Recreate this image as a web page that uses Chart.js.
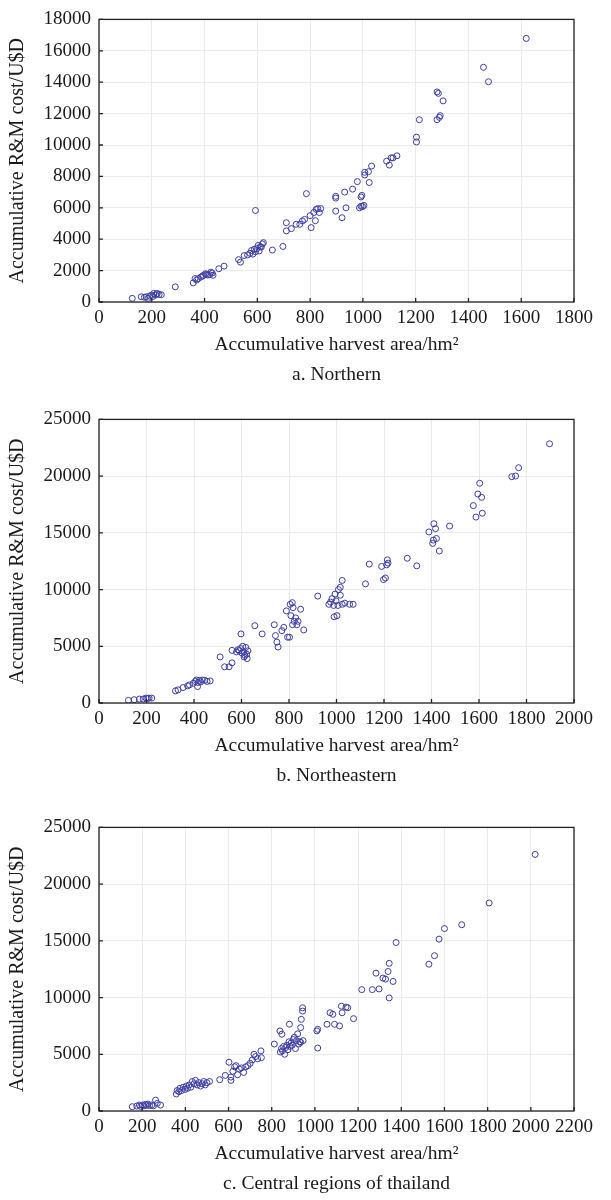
<!DOCTYPE html>
<html>
<head>
<meta charset="utf-8">
<script src="https://cdn.jsdelivr.net/npm/chart.js@4.4.1/dist/chart.umd.min.js"></script>
<style>
  body { margin: 0; background: #fff; }
  canvas { display: block; }
</style>
</head>
<body>
<canvas id="chartA" width="611" height="400"></canvas>
<canvas id="chartB" width="611" height="408"></canvas>
<canvas id="chartC" width="611" height="392"></canvas>
<script>
// a. Northern
const northX = [126, 160, 172, 179, 186, 192, 200, 204, 207, 214, 218, 221, 228, 236, 289, 357, 364, 370, 376, 386,
  392, 396, 403, 407, 412, 419, 424, 429, 432, 454, 474, 529, 536, 550, 563, 572, 578, 583, 589, 593,
  598, 603, 607, 611, 615, 619, 623, 593, 657, 697, 710, 710, 729, 747, 761, 771, 779, 786, 804, 800,
  814, 820, 823, 829, 835, 840, 897, 897, 897, 921, 931, 936, 961, 979, 987, 993, 999, 1004, 993, 996,
  1007, 1007, 1021, 1024, 1033, 1090, 1100, 1107, 1114, 1129, 1203, 1203, 1214, 1281, 1290, 1293, 1281, 1286, 1304, 1457,
  1476, 1619];
const northY = [230, 335, 300, 330, 230, 380, 440, 350, 545, 440, 520, 545, 480, 460, 965, 1215, 1490, 1400, 1490, 1590,
  1650, 1700, 1800, 1760, 1720, 1740, 1900, 1845, 1700, 2120, 2285, 2700, 2540, 2955, 3000, 3100, 3280, 3050, 3360, 3200,
  3400, 3600, 3250, 3520, 3500, 3700, 3780, 5830, 3310, 3540, 5050, 4530, 4675, 4950, 4950, 5160, 5260, 6900, 4740, 5500,
  5700, 5180, 5900, 5950, 5700, 5950, 5790, 6620, 6730, 5370, 7000, 6000, 7190, 7670, 6000, 6100, 6080, 6150, 6690, 6790,
  8090, 8260, 8300, 7610, 8660, 8970, 8720, 9180, 9180, 9310, 10190, 10500, 11610, 11610, 11760, 11870, 13380, 13290, 12810, 14950,
  14030, 16790];

// b. Northeastern
const northeastX = [124, 148, 170, 186, 198, 205, 211, 222, 322, 333, 354, 373, 381, 397, 405, 410, 415, 418, 422, 428,
  435, 445, 455, 468, 510, 529, 548, 560, 560, 579, 585, 590, 596, 598, 602, 605, 610, 614, 618, 622,
  627, 611, 624, 656, 687, 738, 743, 749, 754, 770, 778, 789, 794, 802, 805, 814, 817, 808, 815, 822,
  828, 833, 838, 849, 862, 921, 968, 975, 981, 988, 994, 998, 990, 1002, 1006, 1016, 1024, 1035, 1055, 1070,
  1008, 1016, 1024, 1122, 1138, 1190, 1198, 1206, 1211, 1214, 1217, 1298, 1338, 1389, 1405, 1408, 1410, 1417, 1421, 1433,
  1476, 1576, 1587, 1595, 1603, 1611, 1614, 1738, 1754, 1767, 1897];
const northeastY = [232, 290, 348, 348, 435, 400, 435, 435, 1073, 1160, 1363, 1508, 1595, 1740, 1900, 2030, 1450, 1800, 2000, 1850,
  2030, 2000, 1900, 1950, 4060, 3190, 3190, 3540, 4640, 4500, 4700, 4600, 4800, 6090, 4400, 5000, 4500, 4200, 4900, 4300,
  4600, 4060, 3915, 6815, 6090, 6900, 5945, 5365, 4930, 6380, 6670, 8120, 5800, 5800, 8700, 8845, 8410, 7700, 6900, 7200,
  7500, 6900, 7200, 8265, 6440, 9425, 8700, 8900, 9200, 8600, 9600, 9000, 7600, 7700, 8600, 9500, 8700, 8800, 8700, 8700,
  10000, 10200, 10800, 10500, 12240, 12040, 10880, 11020, 12180, 12620, 12330, 12760, 12090, 15080, 14070, 14360, 15800, 15370, 14500, 13400,
  15600, 17400, 16390, 18420, 19370, 18130, 16730, 19950, 20010, 20740, 22850];

// c. Central regions of thailand
const centralX = [154, 175, 187, 193, 201, 208, 215, 220, 227, 234, 244, 252, 262, 270, 285, 358, 362, 370, 375, 382,
  390, 398, 405, 410, 418, 425, 432, 440, 447, 455, 462, 470, 478, 485, 492, 500, 512, 559, 585, 602,
  611, 611, 620, 628, 635, 642, 650, 660, 670, 680, 690, 700, 710, 718, 725, 735, 750, 752, 812, 838,
  847, 840, 845, 850, 855, 860, 865, 870, 875, 880, 882, 885, 890, 895, 900, 905, 910, 915, 920, 925,
  930, 934, 934, 937, 943, 943, 945, 1009, 1013, 1013, 1056, 1070, 1083, 1091, 1114, 1123, 1126, 1144, 1152, 1179,
  1217, 1266, 1283, 1297, 1315, 1327, 1339, 1344, 1344, 1362, 1376, 1528, 1554, 1575, 1600, 1680, 1807, 2020];
const centralY = [378, 436, 523, 400, 523, 450, 581, 500, 610, 480, 523, 450, 959, 670, 523, 1500, 1800, 1700, 2000, 1800,
  2100, 1900, 2200, 2000, 2300, 2100, 2600, 2400, 2700, 2300, 2500, 2200, 2400, 2600, 2300, 2500, 2600, 2760, 3140, 4300,
  2990, 2700, 3500, 3900, 4000, 3200, 3700, 3800, 3400, 3900, 4000, 4200, 4500, 5000, 4800, 4600, 5300, 4700, 5900, 7060,
  6770, 5200, 5500, 5300, 5700, 5000, 5600, 5800, 5400, 6100, 7650, 5700, 6000, 5800, 6300, 6500, 5500, 6200, 6800, 5900,
  6100, 6050, 7355, 8080, 8810, 9100, 6200, 7060, 7200, 5550, 7645, 8660, 8520, 7645, 7500, 9240, 8660, 9160, 9100, 8140,
  10700, 10700, 12150, 10760, 11715, 11630, 12300, 13020, 9970, 11420, 14850, 12940, 13690, 15150, 16080, 16420, 18340, 22620];

const serif = "'Liberation Serif', 'Times New Roman', serif";
const textColor = '#1a1a1a';

// box round the plot and small ticks pointing inward
const framePlugin = {
    id: 'frame',
    afterDraw(chart) {
        const {ctx, chartArea: a, scales} = chart;
        ctx.save();
        ctx.strokeStyle = '#222';
        ctx.lineWidth = 1.3;
        ctx.strokeRect(a.left, a.top, a.right - a.left, a.bottom - a.top);
        ctx.beginPath();
        scales.x.ticks.forEach(t => {
            const px = scales.x.getPixelForValue(t.value);
            ctx.moveTo(px, a.bottom);
            ctx.lineTo(px, a.bottom - 4);
        });
        scales.y.ticks.forEach(t => {
            const py = scales.y.getPixelForValue(t.value);
            ctx.moveTo(a.left, py);
            ctx.lineTo(a.left + 4, py);
        });
        ctx.stroke();
        ctx.restore();
    }
};

function toPoints(xs, ys) {
    return xs.map((x, i) => ({x: x, y: ys[i]}));
}

function makeChart(id, xs, ys, xMax, yMax, yStep, caption, padBottom) {
    const ctx = document.getElementById(id).getContext('2d');
    return new Chart(ctx, {
        type: 'scatter',
        data: {
            datasets: [{
                data: toPoints(xs, ys),
                pointStyle: 'circle',
                pointRadius: 3,
                pointBorderWidth: 1,
                borderColor: '#3d3da2',
                backgroundColor: 'rgba(0,0,0,0)'
            }]
        },
        options: {
            responsive: false,
            animation: false,
            layout: {padding: {top: 16, right: 37, left: 0, bottom: padBottom}},
            plugins: {
                legend: {display: false},
                tooltip: {enabled: false}
            },
            scales: {
                x: {
                    type: 'linear',
                    min: 0,
                    max: xMax,
                    afterFit: scale => { scale.height = 87; },
                    border: {display: false},
                    grid: {color: '#ebebeb', drawTicks: false},
                    ticks: {
                        stepSize: 200,
                        autoSkip: false,
                        maxRotation: 0,
                        padding: 5,
                        color: textColor,
                        font: {family: serif, size: 19},
                        callback: v => String(v)
                    },
                    title: {
                        // axis title, then the panel caption under it
                        display: true,
                        text: ['Accumulative harvest area/hm²', caption],
                        color: textColor,
                        font: {family: serif, size: 19.5, lineHeight: 1.5},
                        padding: {top: 0, bottom: 0}
                    }
                },
                y: {
                    type: 'linear',
                    min: 0,
                    max: yMax,
                    afterFit: scale => { scale.width = 99; },
                    border: {display: false},
                    grid: {color: '#ebebeb', drawTicks: false},
                    ticks: {
                        stepSize: yStep,
                        autoSkip: false,
                        padding: 8,
                        color: textColor,
                        font: {family: serif, size: 19},
                        callback: v => String(v)
                    },
                    title: {
                        display: true,
                        text: 'Accumulative R&M cost/U$D',
                        color: textColor,
                        font: {family: serif, size: 20},
                        padding: {top: 6, bottom: 0}
                    }
                }
            }
        },
        plugins: [framePlugin]
    });
}

makeChart('chartA', northX, northY, 1800, 18000, 2000, 'a. Northern', 11);
makeChart('chartB', northeastX, northeastY, 2000, 25000, 5000, 'b. Northeastern', 18);
makeChart('chartC', centralX, centralY, 2200, 25000, 5000, 'c. Central regions of thailand', 2);
</script>
</body>
</html>
